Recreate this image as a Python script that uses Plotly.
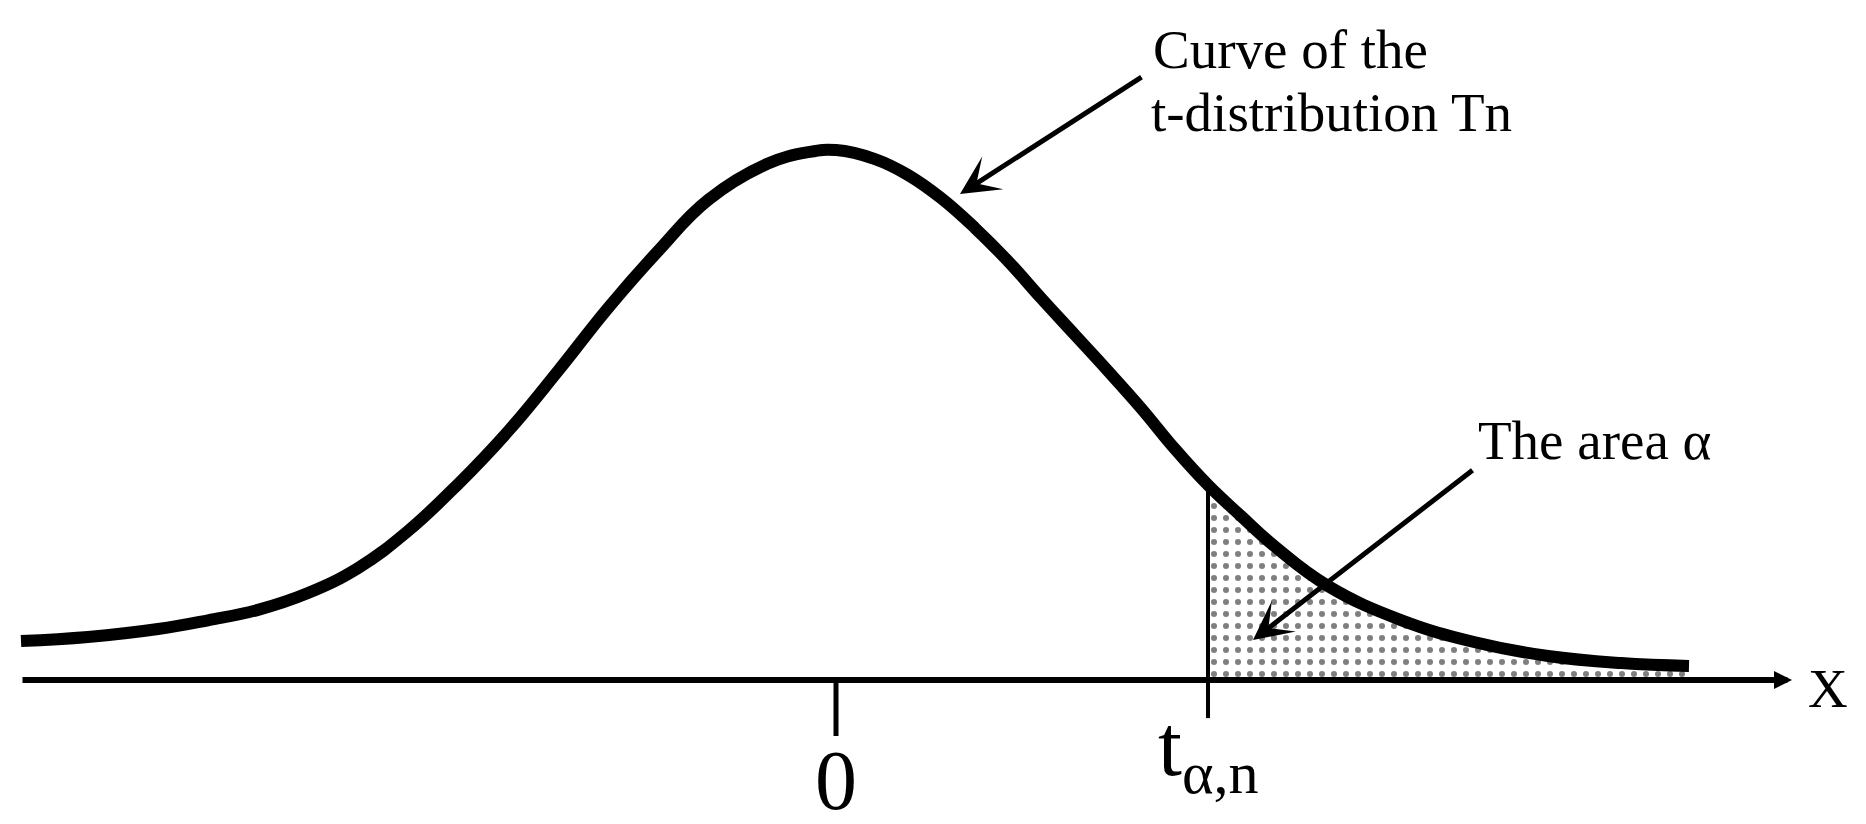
import numpy as np
import plotly.graph_objects as go

# ---- data (x in t-units, y in density units) ----
curve_x = [-4.075, -3.74, -3.39, -3.14, -2.89, -2.64, -2.39, -2.14, -1.89, -1.64,
           -1.39, -1.14, -0.89, -0.64, -0.34, -0.14, 0.0, 0.195, 0.36, 0.525,
           0.695, 0.86, 1.025, 1.195, 1.36, 1.525, 1.695, 1.86, 2.025, 2.195,
           2.46, 2.825, 3.19, 3.56, 3.925, 4.265]
curve_y = [0.0281, 0.0310, 0.0367, 0.0430, 0.0505, 0.0626, 0.0806, 0.1073, 0.1410, 0.1790,
           0.2225, 0.2678, 0.3088, 0.3456, 0.3718, 0.3800, 0.3815, 0.3750, 0.3636, 0.3470,
           0.3254, 0.3016, 0.2750, 0.2484, 0.2225, 0.1958, 0.1663, 0.1404, 0.1181, 0.0960,
           0.0677, 0.0432, 0.0274, 0.0173, 0.0122, 0.0101]
t_alpha = 1.86
tick_positions = [0.0, t_alpha]
tick_texts = ["0", "t<sub>α,n</sub>"]

# ---- layout constants ----
X_RANGE = [-4.14, 5.19]
Y_RANGE = [-0.1094, 0.4838]
AXIS_START = -4.075
AXIS_END = 4.78
ZERO_TICK_BOTTOM = -0.0403
T_TICK_BOTTOM = -0.0274
FONT = "Liberation Serif, Times New Roman, serif"

cx = np.array(curve_x)
cy = np.array(curve_y)
y_at_t = float(np.interp(t_alpha, cx, cy))
mask = cx > t_alpha
fill_x = [t_alpha] + list(cx[mask])
fill_y = [y_at_t] + list(cy[mask])

fig = go.Figure()

# shaded tail area (dotted)
fig.add_trace(go.Scatter(
    x=fill_x, y=fill_y, mode="lines", line=dict(width=0, color="black", shape="spline", smoothing=1.2),
    fill="tozeroy", fillcolor="white",
    fillpattern=dict(shape=".", size=12, solidity=0.2, fgcolor="black", bgcolor="white"),
    hoverinfo="skip", showlegend=False))

# vertical line at t_alpha
fig.add_trace(go.Scatter(
    x=[t_alpha, t_alpha], y=[y_at_t, T_TICK_BOTTOM], mode="lines",
    line=dict(color="black", width=4), hoverinfo="skip", showlegend=False))

# tick at 0
fig.add_trace(go.Scatter(
    x=[tick_positions[0], tick_positions[0]], y=[0, ZERO_TICK_BOTTOM], mode="lines",
    line=dict(color="black", width=5), hoverinfo="skip", showlegend=False))

# the density curve
fig.add_trace(go.Scatter(
    x=curve_x, y=curve_y, mode="lines",
    line=dict(color="black", width=12, shape="spline", smoothing=1.2),
    hoverinfo="skip", showlegend=False))

annotations = []
# x axis with arrow
annotations.append(dict(x=AXIS_END, y=0, ax=AXIS_START, ay=0, xref="x", yref="y",
                        axref="x", ayref="y", text="", showarrow=True, arrowhead=2,
                        arrowsize=0.6, arrowwidth=6, arrowcolor="black", standoff=0))
# arrow to curve
annotations.append(dict(x=0.62, y=0.3499, ax=1.535, ay=0.4348, xref="x", yref="y",
                        axref="x", ayref="y", text="", showarrow=True, arrowhead=3,
                        arrowsize=1.3, arrowwidth=5, arrowcolor="black", standoff=0))
# arrow to area
annotations.append(dict(x=2.085, y=0.0288, ax=3.19, ay=0.1519, xref="x", yref="y",
                        axref="x", ayref="y", text="", showarrow=True, arrowhead=3,
                        arrowsize=1.3, arrowwidth=5, arrowcolor="black", standoff=0))

# texts
annotations.append(dict(x=1.575, y=0.454, xref="x", yref="y", text="Curve of the",
                        showarrow=False, xanchor="left", yanchor="middle",
                        font=dict(family=FONT, size=55, color="black")))
annotations.append(dict(x=1.565, y=0.4085, xref="x", yref="y", text="t-distribution Tn",
                        showarrow=False, xanchor="left", yanchor="middle",
                        font=dict(family=FONT, size=55, color="black")))
annotations.append(dict(x=3.20, y=0.1728, xref="x", yref="y", text="The area α",
                        showarrow=False, xanchor="left", yanchor="middle",
                        font=dict(family=FONT, size=55, color="black")))
annotations.append(dict(x=tick_positions[0], y=-0.0725, xref="x", yref="y", text=tick_texts[0],
                        showarrow=False, xanchor="center", yanchor="middle",
                        font=dict(family=FONT, size=84, color="black")))
annotations.append(dict(x=tick_positions[1], y=-0.052, xref="x", yref="y", text=tick_texts[1],
                        showarrow=False, xanchor="center", yanchor="middle",
                        font=dict(family=FONT, size=86, color="black")))
annotations.append(dict(x=4.96, y=-0.0058, xref="x", yref="y", text="X",
                        showarrow=False, xanchor="center", yanchor="middle",
                        font=dict(family=FONT, size=55, color="black")))

fig.update_layout(
    width=1866, height=824, autosize=False,
    margin=dict(l=0, r=0, t=0, b=0, pad=0),
    paper_bgcolor="white", plot_bgcolor="white",
    xaxis=dict(range=X_RANGE, visible=False, showgrid=False, zeroline=False, fixedrange=True),
    yaxis=dict(range=Y_RANGE, visible=False, showgrid=False, zeroline=False, fixedrange=True),
    annotations=annotations,
    showlegend=False,
)

fig.write_html("out.html", config={"displayModeBar": False})
